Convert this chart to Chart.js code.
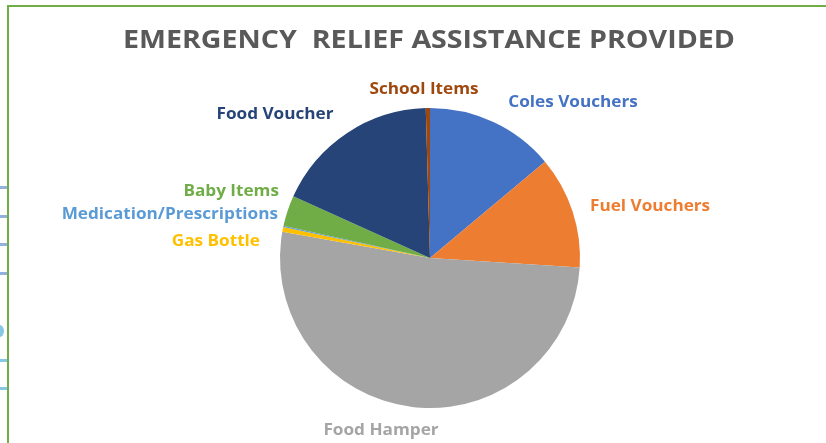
<!DOCTYPE html>
<html>
<head>
<meta charset="utf-8">
<script src="https://cdn.jsdelivr.net/npm/chart.js@4/dist/chart.umd.min.js"></script>
<style>
  html, body { margin: 0; padding: 0; background: #ffffff; }
  #wrap { position: relative; width: 826px; height: 443px; overflow: hidden; }
  #frame { position: absolute; left: 7px; top: 5px; right: -10px; bottom: -10px;
           border-left: 2.5px solid #70AD47; border-top: 2.5px solid #70AD47; pointer-events: none; }
  .stub { position: absolute; left: 0; width: 7px; height: 3px; background: #93B1DE; }
  .dot { position: absolute; left: -5px; top: 325px; width: 9px; height: 12px; border-radius: 50%; background: #86C8E4; }
  canvas { position: absolute; left: 0; top: 0; }
</style>
</head>
<body>
<div id="wrap">
  <canvas id="chart" width="826" height="443"></canvas>
  <div class="stub" style="top:186px"></div>
  <div class="stub" style="top:215px"></div>
  <div class="stub" style="top:243px"></div>
  <div class="stub" style="top:272px"></div>
  <div class="dot"></div>
  <div class="stub" style="top:359px;background:#86C8E4"></div>
  <div class="stub" style="top:387px;background:#86C8E4"></div>
  <div id="frame"></div>
</div>
<script>
// Share of emergency relief assistance by type (percent)
const categories = [
  'Coles Vouchers', 'Fuel Vouchers', 'Food Hamper', 'Gas Bottle',
  'Medication/Prescriptions', 'Baby Items', 'Food Voucher', 'School Items'
];
const shares = [13.9, 12.1, 51.8, 0.5, 0.15, 3.3, 17.8, 0.45];
const sliceColors = ['#4472C4', '#ED7D31', '#A5A5A5', '#FFC000', '#5B9BD5', '#70AD47', '#264478', '#9E480E'];
const chartTitle = 'EMERGENCY  RELIEF ASSISTANCE PROVIDED';

// Where each category name sits, relative to the pie centre: [dx, dy, align]
const labelPlacement = [
  [143, -156, 'center'],
  [160, -52, 'left'],
  [-49, 172, 'center'],
  [-170, -17, 'right'],
  [-152, -44, 'right'],
  [-151, -67, 'right'],
  [-155, -144, 'center'],
  [-6, -169, 'center']
];

const textFont = '"Open Sans", "Liberation Sans", sans-serif';

// Draws text squeezed or stretched horizontally to a given width
function fitText(ctx, text, x, y, width) {
  const w = ctx.measureText(text).width;
  ctx.save();
  ctx.translate(x, y);
  ctx.scale(width / w, 1);
  ctx.fillText(text, 0, 0);
  ctx.restore();
}

const annotate = {
  id: 'annotate',
  afterDatasetsDraw(chart) {
    const ctx = chart.ctx;
    const arcs = chart.getDatasetMeta(0).data;
    const cx = arcs[0].x, cy = arcs[0].y;
    ctx.save();
    ctx.textBaseline = 'middle';
    // heading
    ctx.fillStyle = '#595959';
    ctx.textAlign = 'center';
    ctx.font = '700 25px ' + textFont;
    fitText(ctx, chartTitle, 429, 41, 612);
    // category names
    ctx.font = '700 16.5px ' + textFont;
    categories.forEach((name, i) => {
      const [dx, dy, align] = labelPlacement[i];
      ctx.fillStyle = sliceColors[i];
      ctx.textAlign = align;
      const w = ctx.measureText(name).width;
      fitText(ctx, name, cx + dx, cy + dy, w * 1.04);
    });
    ctx.restore();
  }
};

new Chart(document.getElementById('chart'), {
  type: 'pie',
  data: {
    labels: categories,
    datasets: [{
      data: shares,
      backgroundColor: sliceColors,
      borderWidth: 0
    }]
  },
  options: {
    responsive: false,
    animation: false,
    layout: { padding: { left: 280, right: 246, top: 108, bottom: 35 } },
    plugins: {
      legend: { display: false },
      title: { display: false },
      tooltip: { enabled: false }
    }
  },
  plugins: [annotate]
});
</script>
</body>
</html>
